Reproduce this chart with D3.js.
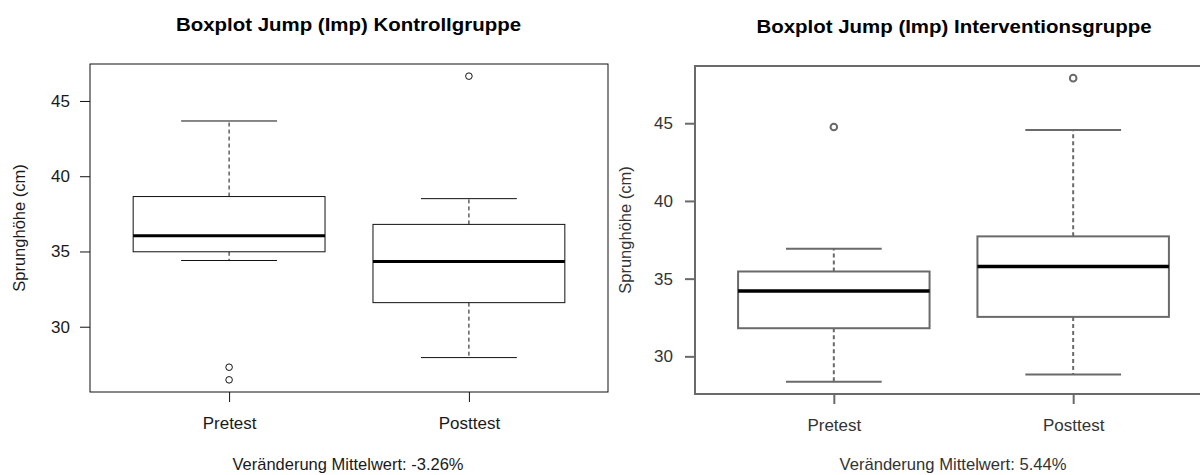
<!DOCTYPE html>
<html>
<head>
<meta charset="utf-8">
<script src="https://cdn.jsdelivr.net/npm/d3@7"></script>
<style>
  body { margin: 0; background: #fff; }
  svg { display: block; font-family: "Liberation Sans", Arial, sans-serif; }
</style>
</head>
<body>
<div id="chart-area"></div>
<script>
// box statistics
var groups = ["Pretest", "Posttest"];
var yTicks = [30, 35, 40, 45];

// Kontrollgruppe
var kontrollLow = [34.4, 27.95];
var kontrollQ1 = [34.98, 31.6];
var kontrollMedian = [36.05, 34.33];
var kontrollQ3 = [38.65, 36.8];
var kontrollHigh = [43.67, 38.51];
var kontrollOutliers = [[27.31, 26.47], [46.65]];

// Interventionsgruppe
var interLow = [28.36, 28.84];
var interQ1 = [31.81, 32.54];
var interMedian = [34.2, 35.78];
var interQ3 = [35.46, 37.72];
var interHigh = [36.93, 44.57];
var interOutliers = [[44.76], [47.9]];

var width = 1200, height = 475;

var svg = d3.select("#chart-area").append("svg")
    .attr("width", width)
    .attr("height", height);

function drawPanel(opt) {
  var g = svg.append("g");
  var allVals = opt.low.concat(opt.high, d3.merge(opt.outliers));
  var lo = d3.min(allVals), hi = d3.max(allVals), pad = (hi - lo) * 0.04;

  var y = d3.scaleLinear().domain([lo - pad, hi + pad]).range([opt.bottom, opt.top]);
  var x = d3.scaleLinear().domain([0.42, 2.58]).range([opt.left, opt.right]);

  var rows = groups.map(function(name, i) {
    return { name: name, i: i + 1, low: opt.low[i], q1: opt.q1[i], med: opt.median[i],
             q3: opt.q3[i], high: opt.high[i], out: opt.outliers[i] };
  });
  var boxW = x(1.4) - x(1), capW = x(1.2) - x(1);

  // whiskers (dashed)
  g.selectAll(".whisk-up").data(rows).enter().append("line")
    .attr("x1", function(d) { return x(d.i); }).attr("x2", function(d) { return x(d.i); })
    .attr("y1", function(d) { return y(d.q3); }).attr("y2", function(d) { return y(d.high); })
    .attr("stroke", opt.color).attr("stroke-width", opt.lw).attr("stroke-dasharray", "4,3");
  g.selectAll(".whisk-down").data(rows).enter().append("line")
    .attr("x1", function(d) { return x(d.i); }).attr("x2", function(d) { return x(d.i); })
    .attr("y1", function(d) { return y(d.q1); }).attr("y2", function(d) { return y(d.low); })
    .attr("stroke", opt.color).attr("stroke-width", opt.lw).attr("stroke-dasharray", "4,3");

  // caps
  ["low", "high"].forEach(function(k) {
    g.selectAll(".cap-" + k).data(rows).enter().append("line")
      .attr("x1", function(d) { return x(d.i) - capW; })
      .attr("x2", function(d) { return x(d.i) + capW; })
      .attr("y1", function(d) { return y(d[k]); })
      .attr("y2", function(d) { return y(d[k]); })
      .attr("stroke", opt.color).attr("stroke-width", opt.lw);
  });

  // boxes
  g.selectAll(".box").data(rows).enter().append("rect")
    .attr("x", function(d) { return x(d.i) - boxW; })
    .attr("width", boxW * 2)
    .attr("y", function(d) { return y(d.q3); })
    .attr("height", function(d) { return y(d.q1) - y(d.q3); })
    .attr("fill", "#fff").attr("stroke", opt.color).attr("stroke-width", opt.lw);

  // medians
  g.selectAll(".median").data(rows).enter().append("line")
    .attr("x1", function(d) { return x(d.i) - boxW; })
    .attr("x2", function(d) { return x(d.i) + boxW; })
    .attr("y1", function(d) { return y(d.med); })
    .attr("y2", function(d) { return y(d.med); })
    .attr("stroke", "#000").attr("stroke-width", opt.medLw);

  // outliers
  var outs = [];
  rows.forEach(function(r) { r.out.forEach(function(v) { outs.push({ i: r.i, v: v }); }); });
  g.selectAll(".outlier").data(outs).enter().append("circle")
    .attr("cx", function(d) { return x(d.i); })
    .attr("cy", function(d) { return y(d.v); })
    .attr("r", 3.3)
    .attr("fill", "none").attr("stroke", opt.color).attr("stroke-width", opt.lw);

  // frame
  g.append("rect")
    .attr("x", opt.left).attr("y", opt.top)
    .attr("width", opt.right - opt.left).attr("height", opt.bottom - opt.top)
    .attr("fill", "none").attr("stroke", opt.color).attr("stroke-width", opt.lw);

  // y axis
  var yAxis = g.append("g")
    .attr("transform", "translate(" + opt.left + ",0)")
    .call(d3.axisLeft(y).tickValues(yTicks).tickSize(10).tickPadding(opt.yPad));
  yAxis.select(".domain").remove();
  yAxis.selectAll("line").attr("stroke", opt.color).attr("stroke-width", opt.lw);
  yAxis.selectAll("text").attr("fill", opt.textColor)
    .style("font-size", "17px").style("font-family", "'Liberation Sans', Arial, sans-serif");

  // x axis
  var xAxis = g.append("g")
    .attr("transform", "translate(0," + opt.bottom + ")")
    .call(d3.axisBottom(x).tickValues([1, 2]).tickSize(10)
      .tickFormat(function(d) { return groups[d - 1]; }));
  xAxis.select(".domain").remove();
  xAxis.selectAll("line").attr("stroke", opt.color).attr("stroke-width", opt.lw);
  xAxis.selectAll("text").attr("fill", opt.textColor)
    .attr("dy", null)
    .attr("y", opt.xLabelY - opt.bottom)
    .style("font-size", "17px").style("font-family", "'Liberation Sans', Arial, sans-serif");

  // title
  g.append("text")
    .attr("x", opt.titleX).attr("y", opt.titleY)
    .attr("text-anchor", "middle")
    .attr("textLength", opt.titleLen).attr("lengthAdjust", "spacingAndGlyphs")
    .style("font-size", "19px").style("font-weight", "bold")
    .attr("fill", "#000")
    .text(opt.title);

  // y label
  g.append("text")
    .attr("transform", "translate(" + opt.yLabelX + "," + ((opt.top + opt.bottom) / 2) + ") rotate(-90)")
    .attr("text-anchor", "middle")
    .style("font-size", "16.5px")
    .attr("fill", opt.textColor)
    .text("Sprunghöhe (cm)");

  // sub caption
  g.append("text")
    .attr("x", opt.captionX).attr("y", opt.captionY)
    .attr("text-anchor", "middle")
    .attr("textLength", opt.captionLen).attr("lengthAdjust", "spacingAndGlyphs")
    .style("font-size", "17px")
    .attr("fill", opt.textColor)
    .text(opt.caption);
}

drawPanel({
  left: 90, right: 608, top: 64, bottom: 392,
  low: kontrollLow, q1: kontrollQ1, median: kontrollMedian, q3: kontrollQ3,
  high: kontrollHigh, outliers: kontrollOutliers,
  color: "#111", textColor: "#1a1a1a", lw: 1, medLw: 3, yPad: 10, xLabelY: 429,
  title: "Boxplot Jump (Imp) Kontrollgruppe", titleX: 348.5, titleY: 31, titleLen: 345,
  yLabelX: 25,
  caption: "Veränderung Mittelwert: -3.26%", captionX: 348, captionY: 470, captionLen: 231
});

drawPanel({
  left: 695, right: 1212, top: 66, bottom: 394,
  low: interLow, q1: interQ1, median: interMedian, q3: interQ3,
  high: interHigh, outliers: interOutliers,
  color: "#6a6a6a", textColor: "#333", lw: 2, medLw: 3.5, yPad: 12, xLabelY: 431,
  title: "Boxplot Jump (Imp) Interventionsgruppe", titleX: 954, titleY: 33, titleLen: 395,
  yLabelX: 631,
  caption: "Veränderung Mittelwert: 5.44%", captionX: 953, captionY: 470, captionLen: 227
});
</script>
</body>
</html>
